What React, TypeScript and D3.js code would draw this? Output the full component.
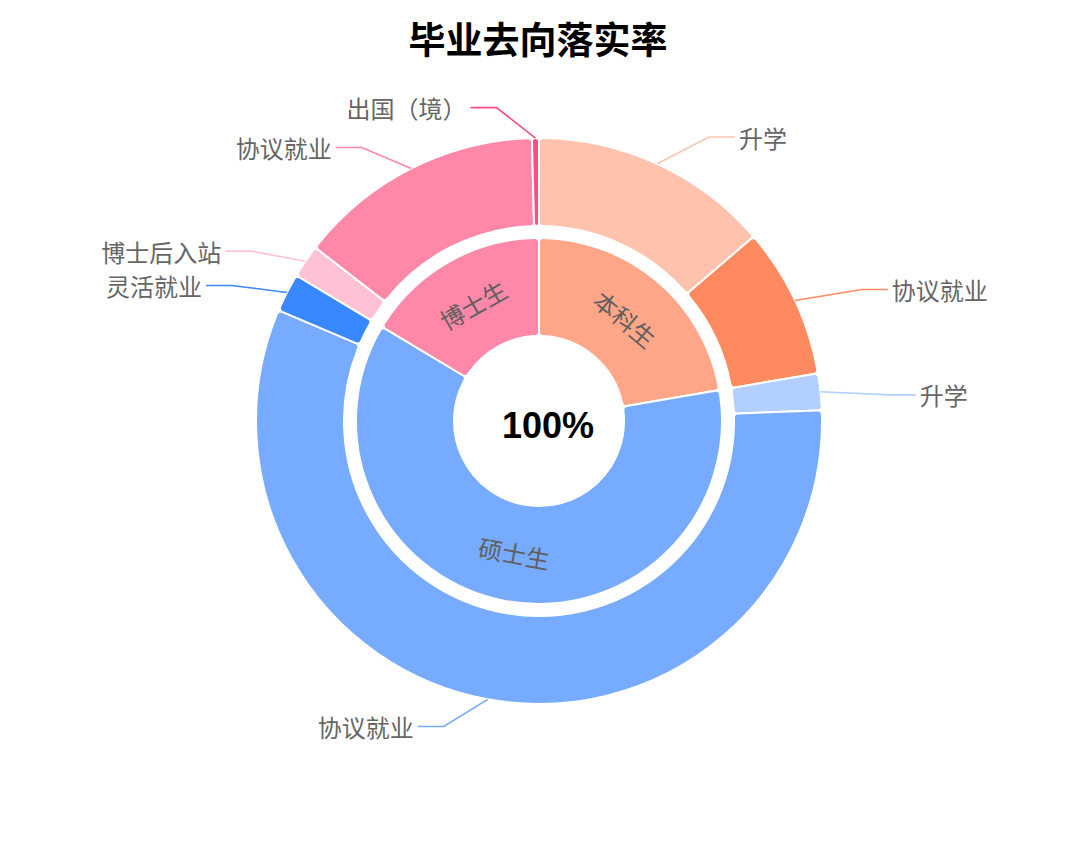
import * as d3 from 'd3';
import React from 'react';

// 学历层次（内环）与毕业去向（外环）
const groups = ['本科生', '硕士生', '博士生'];
const groupColors = ['#FFA688', '#76ABFF', '#FF88A9'];

const outerNames = ['升学', '协议就业', '升学', '协议就业', '灵活就业', '博士后入站', '协议就业', '出国（境）'];
const outerGroups = ['本科生', '本科生', '硕士生', '硕士生', '硕士生', '博士生', '博士生', '博士生'];
const outerValues = [137, 86, 21, 570, 22, 19, 141, 4];
const outerColors = ['#FFC3AD', '#FF8A5F', '#B1CFFF', '#76ABFF', '#3A88FF', '#FFC2D4', '#FF88A9', '#FF4D80'];

const title = '毕业去向落实率';
const centerText = '100%';

const W = 1080;
const H = 846;
const cx = 539;
const cy = 421;

const CJK = '"Noto Sans CJK SC", "Noto Sans", sans-serif';

interface Slice {
    name: string;
    value: number;
    color: string;
}

const App: React.FC = () => {
    const innerData: Slice[] = groups.map((g, i) => ({
        name: g,
        value: d3.sum(outerValues.filter((_, j) => outerGroups[j] === g)),
        color: groupColors[i],
    }));
    const outerData: Slice[] = outerNames.map((n, i) => ({
        name: n,
        value: outerValues[i],
        color: outerColors[i],
    }));

    const pie = d3.pie<Slice>().value(d => d.value).sort(null);

    const innerArc = d3.arc<d3.PieArcDatum<Slice>>()
        .innerRadius(85)
        .outerRadius(183)
        .cornerRadius(4);
    const outerR = 283;
    const outerArc = d3.arc<d3.PieArcDatum<Slice>>()
        .innerRadius(195)
        .outerRadius(outerR)
        .cornerRadius(4);

    const innerArcs = pie(innerData);
    const outerArcs = pie(outerData);

    // leader lines: anchor on the outer edge, elbow pulled toward horizontal
    const labels = outerArcs.map(a => {
        const mid = (a.startAngle + a.endAngle) / 2;
        const s = Math.sin(mid);
        const c = Math.cos(mid);
        const dir = s >= 0 ? 1 : -1;
        const delta = ((1.5 + 5.5 * Math.pow(Math.abs(c), 1.5)) * Math.PI / 180) * Math.sign(Math.sin(2 * mid) || -1);
        const ea = mid + delta;
        const er = 316 + (dir > 0 ? 36 : 22) * Math.abs(s);
        const ax = cx + outerR * s;
        const ay = cy - outerR * c;
        const ex = cx + er * Math.sin(ea);
        const ey = cy - er * Math.cos(ea);
        const hx = ex + dir * 26;
        return { a, ax, ay, ex, ey, hx, dir };
    });

    return (
        <svg width={W} height={H} style={{ position: 'absolute', left: 0, top: 0, background: '#fff' }}>
            <text x={538} y={38} textAnchor="middle" dominantBaseline="central"
                fontFamily={CJK} fontWeight={700} fontSize={37} fill="#000">{title}</text>

            <g transform={`translate(${cx},${cy})`}>
                {innerArcs.map((a, i) => (
                    <path key={'i' + i} d={innerArc(a) || ''} fill={a.data.color} stroke="#fff" strokeWidth={2} />
                ))}
                {outerArcs.map((a, i) => (
                    <path key={'o' + i} d={outerArc(a) || ''} fill={a.data.color} stroke="#fff" strokeWidth={2} />
                ))}
                {innerArcs.map((a, i) => {
                    const mid = (a.startAngle + a.endAngle) / 2;
                    const [x, y] = innerArc.centroid(a);
                    let rot = mid * 180 / Math.PI;
                    if (rot > 90 && rot < 270) rot -= 180;
                    if (rot >= 270) rot -= 360;
                    return (
                        <text key={'il' + i} transform={`translate(${x},${y}) rotate(${rot})`}
                            textAnchor="middle" dominantBaseline="central"
                            fontFamily={CJK} fontSize={24} fill="#5f5f5f">{a.data.name}</text>
                    );
                })}
            </g>

            {labels.map((l, i) => (
                <g key={'l' + i}>
                    <polyline points={`${l.ax},${l.ay} ${l.ex},${l.ey} ${l.hx},${l.ey}`}
                        fill="none" stroke={l.a.data.color} strokeWidth={1.6} />
                    <text x={l.hx + l.dir * 4} y={l.ey} textAnchor={l.dir > 0 ? 'start' : 'end'}
                        dominantBaseline="central" fontFamily={CJK} fontSize={24} fill="#666">{l.a.data.name}</text>
                </g>
            ))}

            <text x={548} y={425} textAnchor="middle" dominantBaseline="central"
                fontFamily='"Liberation Sans", Arial, sans-serif' fontWeight={700} fontSize={36} fill="#000">{centerText}</text>
        </svg>
    );
};

export default App;
